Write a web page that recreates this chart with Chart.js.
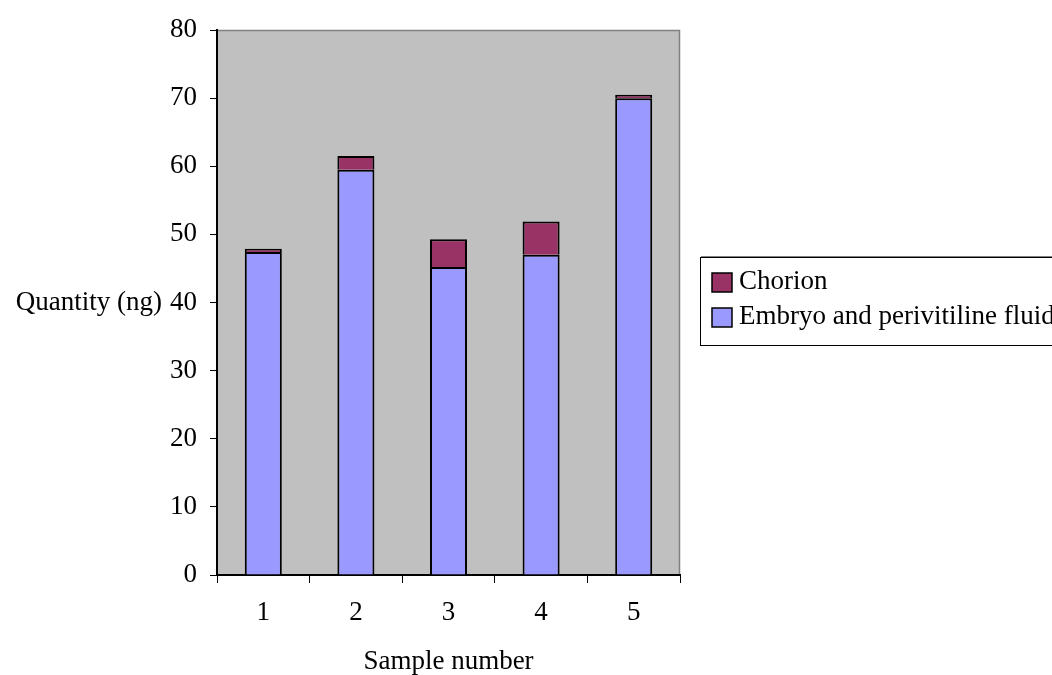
<!DOCTYPE html>
<html lang="en">
<head>
<title>Quantity per sample</title>
<script src="https://cdn.jsdelivr.net/npm/chart.js@4/dist/chart.umd.min.js"></script>
<style>
  html, body { margin: 0; padding: 0; background: #fff; overflow: hidden; }
  #wrap { width: 1052px; height: 675px; }
</style>
</head>
<body>
<div id="wrap"><canvas id="myChart" width="1052" height="675"></canvas></div>
<script>
// data
var samples = ['1', '2', '3', '4', '5'];
var embryo = [47.4, 59.5, 45.2, 47.0, 70.0];
var chorion = [0.5, 2.0, 4.1, 4.9, 0.5];
var seriesNames = ['Embryo and perivitiline fluid', 'Chorion'];
var seriesColors = ['#9999ff', '#993366'];
var yTicks = [0, 10, 20, 30, 40, 50, 60, 70, 80];

var serif = "'Liberation Serif', 'Times New Roman', serif";
var fs = 27;

// grey plot area, and the legend / y title that Chart.js can't lay out like this
var decor = {
    id: 'decor',
    beforeDraw: function(chart) {
        var ctx = chart.ctx, a = chart.chartArea;
        ctx.save();
        ctx.fillStyle = '#c0c0c0';
        ctx.fillRect(a.left, a.top, a.right - a.left, a.bottom - a.top);
        ctx.strokeStyle = '#808080';
        ctx.lineWidth = 1.5;
        ctx.beginPath();
        ctx.moveTo(a.left, a.top + 0.5);
        ctx.lineTo(a.right - 0.5, a.top + 0.5);
        ctx.lineTo(a.right - 0.5, a.bottom);
        ctx.stroke();
        ctx.restore();
    },
    afterDraw: function(chart) {
        var ctx = chart.ctx;
        ctx.save();
        ctx.font = fs + 'px ' + serif;
        ctx.fillStyle = '#000';
        ctx.textBaseline = 'middle';
        // y axis title, horizontal
        ctx.textAlign = 'right';
        var y40 = chart.scales.y.getPixelForValue(40);
        ctx.fillText('Quantity (ng)', 162, y40);

        // legend box
        ctx.strokeStyle = '#000';
        ctx.lineWidth = 1;
        ctx.strokeRect(700.5, 257.5, 400, 88);
        ctx.strokeStyle = '#808080';
        ctx.beginPath();
        ctx.moveTo(701, 256.5); ctx.lineTo(1052, 256.5);
        ctx.stroke();
        ctx.textAlign = 'left';
        var ds = chart.data.datasets;
        var rowY = [282, 317];
        for (var i = 0; i < ds.length; i++) {
            var d = ds[ds.length - 1 - i];
            ctx.fillStyle = d.backgroundColor;
            ctx.fillRect(712, rowY[i] - 9, 20, 19);
            ctx.strokeStyle = '#000';
            ctx.lineWidth = 1.5;
            ctx.strokeRect(712, rowY[i] - 9, 20, 19);
            ctx.fillStyle = '#000';
            ctx.fillText(d.label, 739, rowY[i]);
        }
        ctx.restore();
    }
};

function draw() {
    var ctx = document.getElementById('myChart');
    new Chart(ctx, {
        type: 'bar',
        data: {
            labels: samples,
            datasets: [
                { label: seriesNames[0], data: embryo, backgroundColor: seriesColors[0],
                  borderColor: '#000', borderWidth: 2, barPercentage: 0.4, categoryPercentage: 1 },
                { label: seriesNames[1], data: chorion, backgroundColor: seriesColors[1],
                  borderColor: '#000', borderWidth: 2, barPercentage: 0.4, categoryPercentage: 1 }
            ]
        },
        options: {
            responsive: false,
            animation: false,
            layout: { padding: { left: 0, right: 372, top: 30, bottom: 0 } },
            plugins: { legend: { display: false }, tooltip: { enabled: false } },
            scales: {
                x: {
                    stacked: true,
                    grid: { offset: true, drawOnChartArea: false, tickLength: 8, color: '#000', tickWidth: 1 },
                    border: { color: '#000', width: 2 },
                    ticks: { color: '#000', font: { family: serif, size: fs }, padding: 14 },
                    title: { display: true, text: 'Sample number', color: '#000',
                             font: { family: serif, size: fs, lineHeight: 1 }, padding: { top: 0, bottom: 0 } },
                    afterFit: function(s) { s.height = 100; }
                },
                y: {
                    stacked: true,
                    min: 0, max: 80,
                    afterBuildTicks: function(s) { s.ticks = yTicks.map(function(v) { return { value: v }; }); },
                    grid: { drawOnChartArea: false, tickLength: 7, color: '#000', tickWidth: 1 },
                    border: { color: '#000', width: 2 },
                    ticks: { color: '#000', font: { family: serif, size: fs }, padding: 13 },
                    afterFit: function(s) { s.width = 217; }
                }
            }
        },
        plugins: [decor]
    });
}

draw();
</script>
</body>
</html>
